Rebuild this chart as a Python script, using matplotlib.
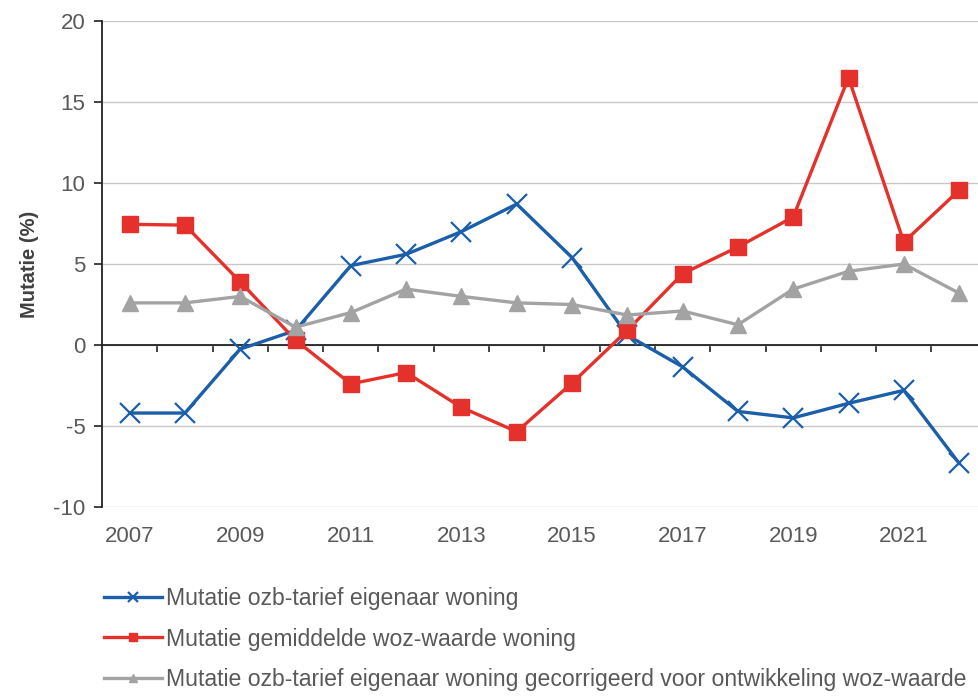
import numpy as np
import matplotlib.pyplot as plt

# Data
jaren = list(range(2007, 2023))
ozb_tarief = [-4.2, -4.2, -0.25, 0.9, 4.9, 5.6, 7.0, 8.7, 5.4, 0.6,
              -1.35, -4.1, -4.5, -3.6, -2.8, -7.3]
woz_waarde = [7.45, 7.4, 3.9, 0.3, -2.4, -1.7, -3.85, -5.35, -2.35, 0.9,
              4.4, 6.05, 7.9, 16.5, 6.35, 9.55]
ozb_gecorrigeerd = [2.6, 2.6, 3.0, 1.1, 2.0, 3.45, 3.0, 2.6, 2.5, 1.85,
                    2.1, 1.25, 3.45, 4.55, 5.0, 3.2]
labels = ["Mutatie ozb-tarief eigenaar woning",
          "Mutatie gemiddelde woz-waarde woning",
          "Mutatie ozb-tarief eigenaar woning gecorrigeerd voor ontwikkeling woz-waarde"]

plt.rcParams['font.family'] = ['Liberation Sans', 'DejaVu Sans']
plt.rcParams['axes.unicode_minus'] = False

tekst = '#595959'
blauw = '#1b5eaa'
rood = '#e5312b'
grijs = '#a3a3a3'

fig = plt.figure(figsize=(9.79, 6.98), dpi=100)
ax = fig.add_axes([102 / 979, 1 - 507 / 698, 1 - 102 / 979, (507 - 21) / 698])

l1, = ax.plot(jaren, ozb_tarief, color=blauw, lw=2.4, marker='x', ms=14, mew=1.6)
l2, = ax.plot(jaren, woz_waarde, color=rood, lw=2.4, marker='s', ms=12)
l3, = ax.plot(jaren, ozb_gecorrigeerd, color=grijs, lw=2.4, marker='^', ms=11.5)

ax.set_xlim(2006.5, 2022.36)
ax.set_ylim(-10, 20)
ax.set_yticks([-10, -5, 0, 5, 10, 15, 20])
ax.yaxis.grid(True, color='#c8c8c8', lw=1)
ax.set_axisbelow(True)
ax.axhline(0, color='#222222', lw=1.3, zorder=1.5)

for s in ['top', 'right', 'bottom']:
    ax.spines[s].set_visible(False)
ax.spines['left'].set_color('#222222')
ax.spines['left'].set_linewidth(1.3)

ax.set_xticks(range(2007, 2023, 2))
ax.tick_params(axis='x', length=0, pad=14, labelsize=16, labelcolor=tekst)
ax.tick_params(axis='y', length=6, width=1.2, color='#222222', pad=6,
               labelsize=16, labelcolor=tekst)

# tick marks between the years on the zero line
sec = ax.secondary_xaxis(1 / 3)
sec.set_xticks(np.arange(2007.5, 2022, 1))
sec.set_xticklabels([])
sec.tick_params(length=5, width=1.2, color='#222222', direction='out')
sec.spines['bottom'].set_visible(False)

ax.set_ylabel("Mutatie (%)", fontsize=14.5, fontweight='bold', color='#404040', labelpad=10)

fig.legend([l1, l2, l3], labels, loc='upper left', bbox_to_anchor=(104 / 979, 1 - 587 / 698),
           frameon=False, prop={'size': 16.6}, labelcolor=tekst,
           handlelength=2.5, handletextpad=0.2, labelspacing=0.76, markerscale=0.5,
           borderaxespad=0, borderpad=0)

fig.savefig("out.png", dpi=100)
